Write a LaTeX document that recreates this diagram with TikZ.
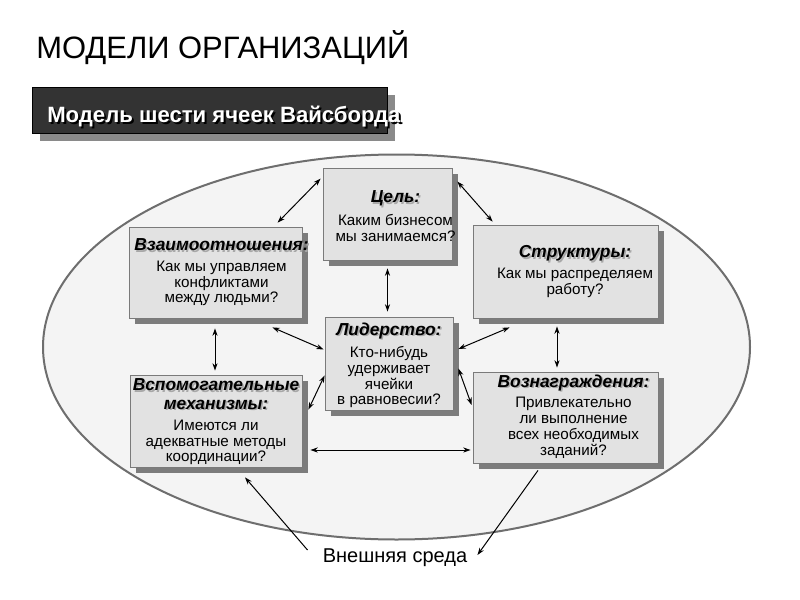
\documentclass[tikz,border=0pt]{standalone}
\usepackage{fontspec}
\setmainfont{Liberation Sans}
\usetikzlibrary{arrows.meta,calc,shadows}

\definecolor{boxfill}{HTML}{E2E2E2}
\definecolor{boxline}{HTML}{7A7A7A}
\definecolor{shadowc}{HTML}{7C7C7C}
\definecolor{ellfill}{HTML}{F4F4F4}
\definecolor{ellline}{HTML}{6E6E6E}
\definecolor{bannerc}{HTML}{333333}
\definecolor{bannersh}{HTML}{8A8A8A}
\definecolor{ttlsh}{HTML}{A8A8A8}

\newcommand\celltitle[1]{{\fontsize{13}{13.5}\selectfont\bfseries\itshape\leavevmode\rlap{\textcolor{ttlsh}{\hspace{1.1pt}\raisebox{-1.1pt}{#1}}}#1}}

\begin{document}
\begin{tikzpicture}[x=0.75pt,y=-0.75pt,
  cellbox/.style={draw=boxline, line width=0.6pt, fill=boxfill, inner sep=0pt,
    drop shadow={shadow xshift=4.5pt, shadow yshift=-4.5pt, fill=shadowc, opacity=1}},
  celltext/.style={align=center, inner sep=0pt, font=\fontsize{11.4}{11.8}\selectfont},
  tip/.tip={Stealth[length=5.5pt,width=3.8pt]},
  both/.style={tip-tip, line width=0.75pt},
  one/.style={-tip, line width=0.75pt}]

\useasboundingbox (0,0) rectangle (800,600);
\fill[white] (0,0) rectangle (800,600);

% title
\node[anchor=base west, inner sep=0pt, font=\fontsize{23.2}{27}\selectfont] (title) at (36,58) {МОДЕЛИ ОРГАНИЗАЦИЙ};

% banner
\node[anchor=north west, draw=black, line width=0.6pt, fill=bannerc, inner sep=0pt,
  minimum width={355*0.75pt}, minimum height={46*0.75pt},
  drop shadow={shadow xshift=6pt, shadow yshift=-6pt, fill=bannersh, opacity=1}] (ban) at (32,87) {};
\node[anchor=base west, inner sep=0pt, font=\fontsize{16.6}{20}\selectfont\bfseries] (bantext) at (47,122)
  {\rlap{\textcolor{black}{\hspace{1.5pt}\raisebox{-1.5pt}{Модель шести ячеек Вайсборда}}}\textcolor{white}{Модель шести ячеек Вайсборда}};

% ellipse
\draw[draw=ellline, line width=1.5pt, fill=ellfill] (396.5,347) ellipse [x radius=353.5, y radius=192.5];

% boxes
\node[cellbox, minimum width={129*0.75pt}, minimum height={92*0.75pt}] (cel) at (387.5,214) {};
\node[cellbox, minimum width={173*0.75pt}, minimum height={91*0.75pt}] (vz) at (215.5,272.5) {};
\node[cellbox, minimum width={185*0.75pt}, minimum height={93*0.75pt}] (str) at (565.5,271.5) {};
\node[cellbox, minimum width={128*0.75pt}, minimum height={93*0.75pt}] (lid) at (389,363.5) {};
\node[cellbox, minimum width={172*0.75pt}, minimum height={92*0.75pt}] (vsp) at (216,421) {};
\node[cellbox, minimum width={185*0.75pt}, minimum height={91*0.75pt}] (voz) at (565.5,417.5) {};

% texts
\node[celltext] (celt) at ($(cel.center)+(8,2)$) {\celltitle{Цель:}\\[4pt]Каким бизнесом\\мы занимаемся?};
\node[celltext] (vzt) at ($(vz.center)+(6,0)$) {\celltitle{Взаимоотношения:}\\[3.5pt]Как мы управляем\\конфликтами\\между людьми?};
\node[celltext] (strt) at ($(str.center)+(9.5,0)$) {\celltitle{Структуры:}\\[4pt]Как мы распределяем\\работу?};
\node[celltext] (lidt) at ($(lid.center)+(0,2)$) {\celltitle{Лидерство:}\\[3.5pt]Кто-нибудь\\удерживает\\ячейки\\в равновесии?};
\node[celltext] (vspt) at ($(vsp.center)+(0,1)$) {\celltitle{Вспомогательные}\\[2pt]\celltitle{механизмы:}\\[4pt]Имеются ли\\адекватные методы\\координации?};
\node[celltext] (vozt) at ($(voz.center)+(8,-1)$) {\celltitle{Вознаграждения:}\\[3.5pt]Привлекательно\\ли выполнение\\всех необходимых\\заданий?};

% environment
\node[anchor=base, inner sep=0pt, font=\fontsize{15}{18}\selectfont] (env) at (395,562) {Внешняя среда};

% connectors
\draw[both] ($(vz.north west)+(149,-4)$) -- ($(cel.north west)+(-2,11)$);
\draw[both] ($(cel.north east)+(5,14)$) -- ($(str.north west)+(20,-3)$);
\draw[both] ($(cel.south)+(0,8)$) -- ($(lid.north)+(-1.5,-5)$);
\draw[both] ($(vz.south east)+(-30,9)$) -- ($(lid.west)+(-1,-14)$);
\draw[both] ($(str.south west)+(37,9)$) -- ($(lid.east)+(5,-14.5)$);
\draw[both] ($(vz.south)+(-0.5,10)$) -- ($(vsp.north)+(-1,-4)$);
\draw[both] ($(str.south)+(-8.5,8)$) -- ($(voz.north)+(-8.5,-4)$);
\draw[both] ($(vsp.north east)+(6,35)$) -- ($(lid.south west)+(0,-35)$);
\draw[both] ($(lid.east)+(5,5)$) -- ($(voz.west)+(-1,-12.5)$);
\draw[both] ($(vsp.east)+(8,29)$) -- ($(voz.west)+(-2,32.5)$);
\draw[one] ($(env.base west)+(-15,-12)$) -- ($(vsp.south)+(29,10)$);
\draw[one] ($(voz.south)+(-27.5,7)$) -- ($(env.base east)+(10,-7)$);

\end{tikzpicture}
\end{document}
